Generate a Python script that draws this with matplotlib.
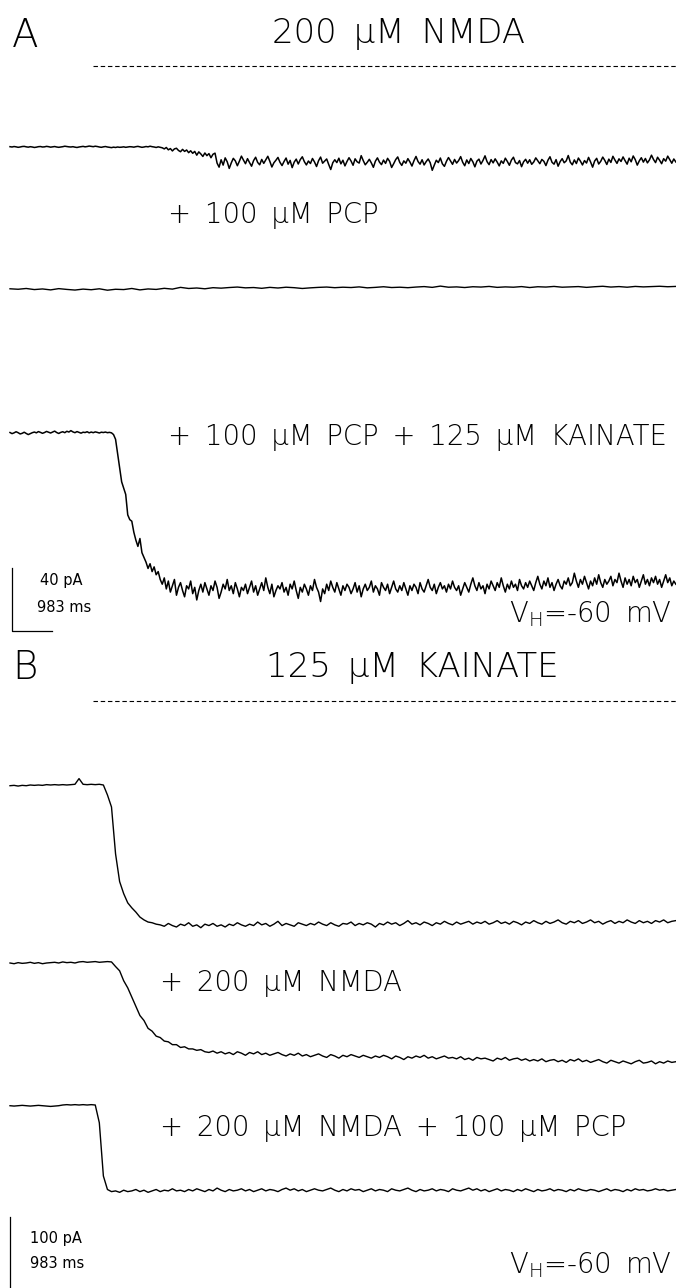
import numpy as np
import matplotlib
matplotlib.use("Agg")
import matplotlib.pyplot as plt
from matplotlib import font_manager
from matplotlib.lines import Line2D

# whole-cell currents, pA relative to holding current
DT = 0.1        # s per sample, panel B and PCP trace
DT_FINE = 0.05  # s per sample, noisy panel A traces

nmda = [0.2, 0.0, 0.3, 0.1, -0.2, 0.0, 0.3, 0.4, 0.1, -0.1, 0.2, 0.0, -0.3, -0.1, 0.2, 0.3, 0.0, 0.1, 0.4, 0.2,
        -0.1, 0.1, 0.3, 0.0, -0.2, 0.0, 0.2, 0.5, 0.3, 0.1, 0.0, 0.2, -0.1, -0.3, 0.0, 0.2, 0.4, 0.1, 0.3, 0.6,
        0.4, 0.2, 0.5, 0.3, 0.0, -0.2, 0.1, 0.3, 0.0, -0.2, -0.4, -0.1, -0.3, 0.0, -0.2, -0.1, 0.1, -0.2, 0.0, 0.2,
        0.1, -0.1, 0.2, 0.4, 0.1, -0.2, 0.0, 0.3, 0.1, 0.5, 0.2, 0.0, -0.3, 0.1, -0.2,
        -0.5, -1.2, -0.3, -1.8, -1.0, -2.5, -1.2, -0.8, -2.2, -3.0, -1.5, -2.8, -1.9, -3.6, -2.4, -4.0, -2.8, -5.2, -3.1, -4.4,
        -6.0, -3.8, -5.5, -4.2, -6.8, -4.6, -3.9,
        -10.2, -12.8, -8.1, -11.5, -6.9, -9.4, -13.6, -10.1, -7.2, -8.8, -11.9, -9.0, -5.8, -8.3, -10.6, -7.4, -9.9, -12.2, -8.6, -6.5,
        -9.8, -11.3, -7.9, -10.4, -8.2, -5.9, -9.1, -12.7, -10.0, -8.4, -6.6, -9.7, -11.8, -9.2, -7.0, -10.9, -8.5, -13.1, -9.6, -7.7,
        -10.8, -8.0, -6.2, -9.3, -11.4, -8.9, -10.5, -7.3, -9.5, -12.4, -8.7, -6.4, -10.3, -9.0, -7.6, -11.1, -14.3, -10.0, -8.1, -9.9,
        -7.1, -10.7, -8.4, -12.0, -9.2, -6.8, -8.9, -11.6, -7.5, -9.4, -10.2, -5.5, -8.6, -11.3, -9.7, -7.8, -10.1, -12.9, -9.0, -6.9,
        -9.6, -11.2, -8.3, -10.4, -7.2, -9.1, -13.0, -10.6, -8.0, -6.3, -9.8, -11.7, -8.8, -10.3, -7.4, -9.5, -12.1, -8.7, -6.0, -9.2,
        -10.9, -8.1, -11.4, -9.3, -7.6, -10.0, -14.8, -11.5, -8.4, -9.9, -7.0, -10.7, -12.3, -9.1, -6.7, -8.9, -11.0, -7.9, -10.2, -8.6,
        -6.1, -9.7, -11.9, -8.2, -10.5, -7.3, -9.4, -12.6, -9.0, -7.7, -10.8, -8.5, -5.6, -9.3, -11.2, -8.0, -10.1, -7.5, -9.6, -12.0,
        -8.8, -10.4, -7.1, -9.2, -11.6, -8.3, -6.5, -9.9, -10.7, -8.6, -12.5, -9.4, -7.8, -10.3, -8.1, -11.0, -9.5, -6.9, -8.7, -10.6,
        -7.9, -9.1, -11.8, -8.4, -6.2, -9.7, -10.9, -8.0, -12.2, -9.3, -7.4, -10.0, -8.8, -5.4, -9.6, -11.3, -8.2, -10.5, -7.0, -9.0,
        -11.4, -8.6, -10.2, -6.6, -9.5, -12.8, -8.9, -7.2, -10.8, -9.1, -6.4, -8.5, -11.1, -7.7, -9.8, -5.9, -8.3, -10.4, -7.5, -9.2,
        -6.3, -8.7, -10.9, -7.1, -9.4, -5.7, -8.0, -11.5, -8.8, -6.8, -9.6, -7.3, -10.1, -8.2, -5.2, -7.9, -9.9, -6.5, -8.4, -10.6,
        -7.4, -9.0, -5.8, -8.1, -10.3, -7.6, -9.5]

# sampled every 2*DT
nmda_pcp = [-0.5, -0.8, -0.3, -1.0, -0.6, -1.2, -0.4, -0.9, -1.3, -0.7, -1.1, -0.5, -1.4, -0.8, -1.0, -0.3, -1.2, -0.6, -0.9, -0.2,
            -0.7, 0.4, -0.3, 0.0, -0.5, 0.2, -0.1, 0.3, 0.6, 0.1, 0.3, -0.2, 0.4, 0.0, 0.5, 0.2, -0.3, 0.1, 0.4, 0.6,
            0.2, 0.5, 0.3, 0.7, 0.1, 0.4, 0.8, 0.3, 0.5, 0.2, 0.6, 0.9, 0.4, 1.2, 0.5, 0.7, 0.3, 0.8, 0.6, 1.0,
            0.4, 0.7, 0.5, 0.9, 0.3, 0.8, 0.6, 1.0, 0.5, 0.7, 0.9, 0.4, 0.8, 1.1, 0.6, 0.9, 0.5, 1.0, 0.7, 0.9,
            1.1, 0.8, 1.0]

nmda_pcp_ka = [0.3, -0.4, 0.1, 0.8, 0.2, -0.6, -0.2, 0.5, -0.3, -1.0, -0.4, 0.2, 0.6, 0.1, 0.9, 0.4, -0.2, 0.3, 1.0, 0.5,
               0.0, 0.6, 1.2, 0.3, -0.3, 0.4, 0.8, 0.2, 1.1, 0.6, 1.5, 0.7, 0.2, 0.9, 0.4, -0.1, 0.5, 0.3, 0.8, 0.1,
               0.6, 0.2, 0.7, 0.4, 0.0, 0.5, 0.3, 0.6, 0.2, 0.4, 0.1,
               -1, -4, -13, -22, -31, -35, -39, -52, -55, -56, -63, -68, -72, -67, -76, -79, -82, -86, -83, -88,
               -85, -90, -88, -93,
               -96, -92, -99, -94, -101, -97, -93, -103, -98, -95, -100, -104, -97, -99, -94, -102, -98, -106, -100, -96,
               -101, -95, -99, -103, -97, -100, -94, -98, -105, -101, -96, -99, -93, -100, -97, -102, -95, -99, -104, -98,
               -100, -96, -102, -98, -94, -101, -97, -103, -99, -95, -100, -92, -98, -102, -96, -104, -100, -97, -99, -95,
               -101, -98, -103, -96, -99, -94, -100, -105, -98, -101, -96, -99, -103, -97, -100, -93, -98, -101, -107, -99,
               -102, -96, -100, -94, -98, -101, -95, -99, -103, -97, -100, -96, -98, -102, -99, -95, -101, -97, -104, -99,
               -96, -100, -98, -94, -101, -97, -99, -103, -95, -98, -100, -96, -102, -98, -94, -99, -101, -97, -100, -95,
               -99, -103, -97, -100, -96, -98, -102, -95, -99, -101, -97, -93, -98, -100, -96, -102, -98, -95, -99, -97,
               -101, -96, -99, -94, -98, -100, -97, -103, -99, -95, -98, -101, -96, -92, -97, -100, -95, -99, -97, -102,
               -96, -99, -94, -97, -100, -95, -98, -92, -97, -101, -96, -99, -94, -98, -96, -100, -93, -97, -99, -95,
               -98, -94, -97, -100, -95, -91, -96, -99, -94, -97, -92, -98, -95, -100, -96, -93, -97, -99, -94, -96,
               -92, -97, -95, -89, -94, -98, -93, -96, -91, -95, -99, -94, -97, -92, -96, -90, -95, -98, -93, -96,
               -94, -91, -97, -93, -95, -89, -94, -98, -92, -96, -93, -97, -91, -95, -93, -98, -94, -90, -96, -93,
               -97, -92, -95, -91, -96, -93, -98, -94, -90, -95, -92, -97, -94, -96]

ka = [-1, -0.5, -1.5, -0.5, -1, 0, -0.5, 0, -0.5, 0.5, 0, 0.5, 0, 0.5, 0, 0.5, 1, 9, 1, 0.5, 1, 0.5, 1,
      0, -14, -31, -97, -136, -153, -166, -173, -179, -186, -190, -193, -194, -196,
      -197, -199, -195, -198, -200, -196, -198, -194, -199, -197, -201, -196, -198, -195, -199, -197, -200, -196, -198, -194,
      -197, -199, -196, -198, -193, -197, -195, -199, -196, -192, -198, -195, -197, -199, -194, -196, -198, -195, -197, -193,
      -196, -198, -194, -197, -199, -195, -196, -193, -198, -195, -197, -194, -196, -200, -195, -197, -193, -196, -194, -198,
      -195, -191, -196, -194, -197, -193, -195, -198, -194, -196, -192, -195, -197, -193, -196, -194, -192, -196, -193, -195,
      -192, -196, -194, -191, -195, -193, -196, -192, -194, -197, -193, -195, -191, -194, -196, -192, -195, -193, -190, -194,
      -196, -192, -194, -191, -195, -193, -190, -194, -192, -196, -193, -191, -195, -192, -194, -190, -193, -195, -191, -194,
      -192, -195, -191, -193, -190, -194, -192, -191]

ka_nmda = [0, -1, 0.5, -0.5, 0, 1, -0.5, 0.5, -1, 0, 0.5, 1, 0, 1.5, 0.5, 1, 0, 1.5, 2, 1, 1.5, 2, 1, 1.5, 2, 1.5,
           -5, -11, -25, -35, -48, -61, -74, -81, -92, -96, -103, -105, -110, -111, -115, -115, -119, -118, -121, -121, -123, -122, -125,
           -126, -124, -127, -125, -128, -126, -129, -125, -127, -130, -126, -128, -125, -129, -127, -130, -128, -126, -129, -131,
           -128, -130, -127, -131, -129, -132, -130, -128, -131, -133, -129, -131, -134, -130, -132, -129, -131, -133, -130, -132,
           -134, -131, -133, -130, -132, -135, -131, -133, -136, -132, -134, -131, -133, -130, -134, -132, -135, -133, -131, -134,
           -133, -135, -132, -136, -134, -137, -133, -135, -134, -136, -138, -134, -136, -133, -137, -135, -134, -137, -135, -138,
           -136, -138, -135, -139, -137, -136, -139, -137, -140, -136, -138, -135, -139, -137, -140, -138, -136, -139, -141, -137,
           -139, -141, -138, -140, -142, -139, -137, -141, -140, -138, -142, -139, -141, -138, -140, -139]

ka_nmda_pcp = [-1, -1.5, -1, -0.5, -1, -1.5, -1, -0.5, -1, -1.5, -2, -1.5, -1, 0, 0.5, 0, 0.5, 0, 0.5, 0, 0.5, 0,
               -25, -100, -119,
               -122, -121, -123, -120, -122, -121, -119, -122, -120, -123, -121, -119, -122, -120, -121, -118, -121, -120, -122, -119,
               -121, -118, -120, -122, -119, -121, -117, -120, -122, -119, -121, -120, -118, -121, -119, -122, -120, -118, -121, -119,
               -120, -122, -119, -117, -120, -118, -121, -119, -122, -120, -118, -120, -121, -119, -117, -120, -122, -119, -121, -118,
               -120, -119, -122, -120, -118, -121, -119, -120, -122, -118, -120, -121, -119, -117, -120, -122, -119, -121, -120, -118,
               -121, -119, -120, -122, -118, -120, -121, -119, -117, -120, -118, -121, -119, -122, -120, -118, -121, -119, -120, -122,
               -119, -121, -118, -120, -122, -119, -121, -120, -118, -121, -119, -120, -122, -119, -121, -118, -120, -121, -119, -120,
               -122, -120, -118, -121, -119, -120, -122, -119, -121, -118, -120, -119, -121, -120, -118, -120, -119, -121, -120, -119]

# ---- layout (pixels) ----
W, H = 676, 1288
X0 = 10
PX_PER_S = 40.6
SCALE_A = 1.575   # px per pA, panel A
SCALE_B = 0.71    # px per pA, panel B
SP = '\u2002'     # en space between words

# thin-stroke lettering: first light face that is installed
installed = set()
for f in font_manager.fontManager.ttflist:
    w = f.weight if isinstance(f.weight, int) else font_manager.weight_dict.get(f.weight, 400)
    installed.add((f.name, w))
FACE, WEIGHT = 'DejaVu Sans Mono', 400
for name, w in [('DejaVu Sans', 200), ('Roboto', 100), ('Roboto', 300), ('Open Sans', 300), ('Lato', 300)]:
    if (name, w) in installed:
        FACE, WEIGHT = name, w
        break

plt.rcParams['font.family'] = [FACE, 'DejaVu Sans']
plt.rcParams['font.weight'] = WEIGHT
fig = plt.figure(figsize=(W / 100, H / 100), dpi=100)
renderer = fig.canvas.get_renderer()


def words(*parts):
    return SP.join(parts)


def fit_size(s, width_px):
    # font size at which s spans width_px
    t = fig.text(0, 0, s, fontsize=10)
    w = t.get_window_extent(renderer).width
    t.remove()
    return 10 * width_px / w


def trace_axes(base_y, scale, lo, hi):
    # axes whose 0 pA level sits on pixel row base_y
    top = base_y - hi * scale
    bottom = base_y - lo * scale
    ax = fig.add_axes([X0 / W, 1 - bottom / H, (W - X0) / W, (bottom - top) / H])
    ax.set_xlim(0, (W - X0) / PX_PER_S)
    ax.set_ylim(lo, hi)
    ax.axis('off')
    return ax


def plot_trace(ax, values, dt=DT, lw=1.0):
    t = np.arange(len(values)) * dt
    ax.plot(t, values, color='black', lw=lw, clip_on=False)


def label(x, y, s, size, ha='left', va='center', weight=None):
    fig.text(x / W, 1 - y / H, s, fontsize=size, ha=ha, va=va, color='black',
             fontweight=weight if weight else WEIGHT)


def dashed(y):
    fig.add_artist(Line2D([93 / W, 1.0], [1 - y / H] * 2, transform=fig.transFigure,
                          color='black', lw=0.8, ls=(0, (4, 2.5))))


title_a = words('200', 'µM', 'NMDA')
title_b = words('125', 'µM', 'KAINATE')
pcp = words('+', '100', 'µM', 'PCP')
pcp_ka = words(pcp, '+', '125', 'µM', 'KAINATE')
nmda_lbl = words('+', '200', 'µM', 'NMDA')
nmda_pcp_lbl = words(nmda_lbl, '+', '100', 'µM', 'PCP')
vh = words(r'V$_\mathregular{H}$=-60', 'mV')

BIG = fit_size(title_a, 252)
MID = fit_size(pcp_ka, 498)
SMALL = 10.5
LETTER = BIG * 1.15

# panel A
label(12, 36, 'A', LETTER)
label(398, 34, title_a, BIG, ha='center')
dashed(66)

ax = trace_axes(147, SCALE_A, -20, 10)
plot_trace(ax, nmda, dt=DT_FINE, lw=1.1)

label(168, 215, pcp, MID)
ax = trace_axes(288, SCALE_A, -10, 10)
plot_trace(ax, nmda_pcp, dt=2 * DT)

label(168, 437, pcp_ka, MID)
ax = trace_axes(433, SCALE_A, -130, 10)
plot_trace(ax, nmda_pcp_ka, dt=DT_FINE, lw=1.1)
# 40 pA / 983 ms calibration
ax.plot([0.05, 0.05, 0.05 + 0.983], [-86, -126, -126], color='black', lw=0.9, clip_on=False)
label(40, 581, '40 pA', SMALL, weight='normal')
label(37, 607, '983 ms', SMALL, weight='normal')
label(672, 614, vh, MID, ha='right')

# panel B
label(12, 668, 'B', LETTER)
label(412, 668, title_b, BIG, ha='center')
dashed(701)

ax = trace_axes(785, SCALE_B, -210, 20)
plot_trace(ax, ka)

label(160, 983, nmda_lbl, MID)
ax = trace_axes(963, SCALE_B, -150, 10)
plot_trace(ax, ka_nmda)

label(160, 1128, nmda_pcp_lbl, MID)
ax = trace_axes(1105, SCALE_B, -260, 10)
plot_trace(ax, ka_nmda_pcp)
# 100 pA calibration
ax.plot([0.0, 0.0], [-158, -258], color='black', lw=0.9, clip_on=False)
label(30, 1238, '100 pA', SMALL, weight='normal')
label(30, 1263, '983 ms', SMALL, weight='normal')
label(672, 1265, vh, MID, ha='right')

fig.savefig('out.png', dpi=100)
